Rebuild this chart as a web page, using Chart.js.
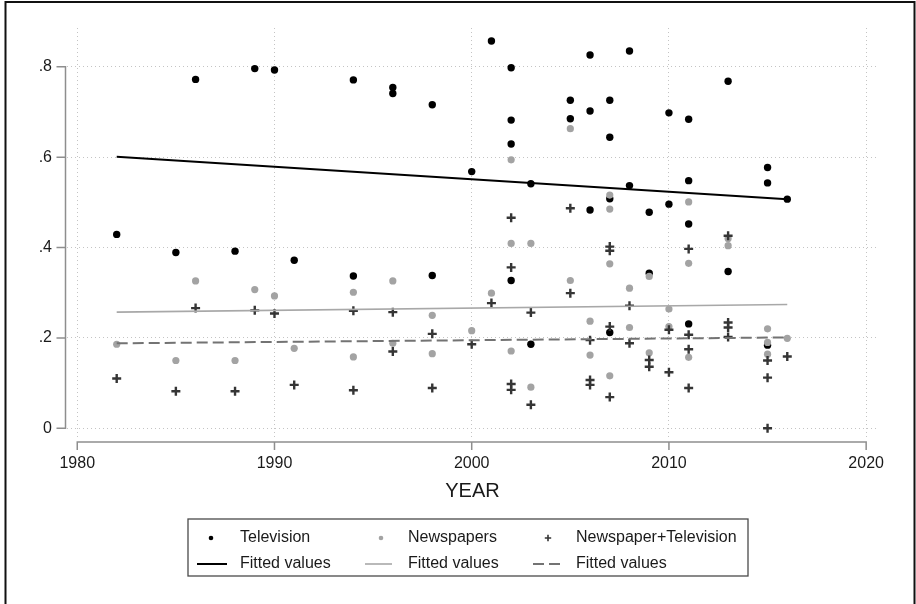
<!DOCTYPE html>
<html>
<head>
<meta charset="utf-8">
<script src="https://cdn.jsdelivr.net/npm/chart.js@4.4.1/dist/chart.umd.min.js"></script>
<style>
  html, body { margin: 0; padding: 0; background: #fff; }
  canvas { display: block; }
</style>
</head>
<body>
<canvas id="c" width="916" height="604" style="width:916px;height:604px"></canvas>
<script>
// ---------- data ----------
const tvYear = [1982,1985,1986,1988,1989,1990,1991,1994,1994,1996,1996,1998,1998,2000,2001,
  2002,2002,2002,2002,2003,2003,2005,2005,2006,2006,2006,2007,2007,2007,2007,2008,2008,
  2009,2009,2010,2010,2011,2011,2011,2011,2013,2013,2015,2015,2015,2016];
const tvValue = [0.429,0.389,0.772,0.392,0.796,0.793,0.372,0.771,0.337,0.754,0.741,0.716,0.338,0.568,0.857,
  0.798,0.682,0.629,0.327,0.541,0.186,0.726,0.685,0.826,0.702,0.483,0.726,0.644,0.508,0.212,0.835,0.537,
  0.478,0.343,0.698,0.496,0.684,0.548,0.452,0.231,0.768,0.347,0.577,0.543,0.184,0.507];

const newsYear = [1982,1985,1986,1988,1989,1990,1991,1994,1994,1996,1996,1998,1998,2000,2001,
  2002,2002,2002,2003,2003,2005,2005,2006,2006,2007,2007,2007,2007,2008,2008,2009,2009,
  2010,2010,2011,2011,2011,2013,2013,2015,2015,2015,2016];
const newsValue = [0.186,0.150,0.326,0.150,0.307,0.293,0.177,0.301,0.158,0.326,0.188,0.250,0.165,0.216,0.299,
  0.594,0.409,0.171,0.409,0.091,0.663,0.327,0.237,0.162,0.516,0.485,0.364,0.116,0.310,0.223,0.336,0.167,
  0.264,0.225,0.501,0.365,0.157,0.420,0.404,0.220,0.190,0.164,0.199];

const bothYear = [1982,1985,1986,1988,1989,1990,1991,1994,1994,1996,1996,1998,1998,2000,2001,
  2002,2002,2002,2002,2003,2003,2005,2005,2006,2006,2006,2007,2007,2007,2007,2008,2008,
  2009,2009,2010,2010,2011,2011,2011,2011,2013,2013,2013,2013,2015,2015,2015,2016];
const bothValue = [0.110,0.082,0.266,0.082,0.261,0.254,0.096,0.260,0.084,0.257,0.170,0.209,0.089,0.186,0.277,
  0.466,0.356,0.098,0.085,0.256,0.052,0.487,0.299,0.195,0.107,0.096,0.402,0.393,0.225,0.069,0.271,0.188,
  0.151,0.136,0.218,0.124,0.397,0.207,0.175,0.089,0.426,0.234,0.223,0.202,0.150,0.112,0.000,0.159];

const fitYear = [1982, 2016];
const fitTv = [0.601, 0.507];
const fitNews = [0.257, 0.274];
const fitBoth = [0.188, 0.201];

const xTicks = [1980, 1990, 2000, 2010, 2020];
const xTickLabels = ['1980', '1990', '2000', '2010', '2020'];
const yTicks = [0, 0.2, 0.4, 0.6, 0.8];
const yTickLabels = ['0', '.2', '.4', '.6', '.8'];
const xTitle = 'YEAR';
const legendLabels = ['Television', 'Newspapers', 'Newspaper+Television',
                      'Fitted values', 'Fitted values', 'Fitted values'];

// ---------- styling ----------
const FONT = "'Liberation Sans', Arial, Helvetica, sans-serif";
const C_TV = '#000000', C_NEWS = '#a3a3a3', C_BOTH = '#353535';
const C_FIT_NEWS = '#a8a8a8', C_FIT_BOTH = '#737373';
const DASH = [11, 5];

const pts = (xs, ys) => xs.map((x, i) => ({ x: x, y: ys[i] }));

const decor = {
  id: 'decor',
  beforeDraw(chart) {
    const ctx = chart.ctx;
    ctx.save();
    ctx.fillStyle = '#fff';
    ctx.fillRect(0, 0, chart.width, chart.height);
    ctx.restore();
  },
  afterDraw(chart) {
    const ctx = chart.ctx;
    const x = chart.scales.x, y = chart.scales.y;
    const area = chart.chartArea;
    ctx.save();
    // y axis line + ticks
    const ax = area.left - 1.5;
    ctx.strokeStyle = '#8e8e8e';
    ctx.lineWidth = 1.5;
    ctx.beginPath();
    ctx.moveTo(ax, y.getPixelForValue(yTicks[0]) + 0.75);
    ctx.lineTo(ax, y.getPixelForValue(yTicks[yTicks.length - 1]) - 0.75);
    yTicks.forEach(v => {
      const p = y.getPixelForValue(v);
      ctx.moveTo(ax - 9, p);
      ctx.lineTo(ax, p);
    });
    ctx.stroke();
    // x axis line + ticks
    const ay = area.bottom + 5;
    ctx.beginPath();
    ctx.moveTo(x.getPixelForValue(xTicks[0]) - 0.75, ay);
    ctx.lineTo(x.getPixelForValue(xTicks[xTicks.length - 1]) + 0.75, ay);
    xTicks.forEach(v => {
      const p = x.getPixelForValue(v);
      ctx.moveTo(p, ay);
      ctx.lineTo(p, ay + 8);
    });
    ctx.stroke();

    // legend
    const L = 188, T = 519, R = 748, B = 576;
    ctx.strokeStyle = '#4a4a4a';
    ctx.lineWidth = 1.3;
    ctx.strokeRect(L, T, R - L, B - T);
    const rows = [538, 564];
    const textX = [240, 408, 576];
    const markX = [211, 381, 548];
    const lineX = [[197, 227], [365, 392], [533, 560]];
    ctx.font = '16px ' + FONT;
    ctx.fillStyle = '#1a1a1a';
    ctx.textBaseline = 'middle';
    ctx.textAlign = 'left';
    for (let i = 0; i < 3; i++) {
      ctx.fillText(legendLabels[i], textX[i], rows[0]);
      ctx.fillText(legendLabels[i + 3], textX[i], rows[1]);
    }
    // markers
    ctx.fillStyle = C_TV;
    ctx.beginPath(); ctx.arc(markX[0], rows[0], 2.3, 0, Math.PI * 2); ctx.fill();
    ctx.fillStyle = C_NEWS;
    ctx.beginPath(); ctx.arc(markX[1], rows[0], 2.3, 0, Math.PI * 2); ctx.fill();
    ctx.strokeStyle = C_BOTH; ctx.lineWidth = 1.6;
    ctx.beginPath();
    ctx.moveTo(markX[2] - 3.2, rows[0]); ctx.lineTo(markX[2] + 3.2, rows[0]);
    ctx.moveTo(markX[2], rows[0] - 3.2); ctx.lineTo(markX[2], rows[0] + 3.2);
    ctx.stroke();
    // line samples
    ctx.strokeStyle = C_TV; ctx.lineWidth = 2;
    ctx.beginPath(); ctx.moveTo(lineX[0][0], rows[1]); ctx.lineTo(lineX[0][1], rows[1]); ctx.stroke();
    ctx.strokeStyle = C_FIT_NEWS; ctx.lineWidth = 1.6;
    ctx.beginPath(); ctx.moveTo(lineX[1][0], rows[1]); ctx.lineTo(lineX[1][1], rows[1]); ctx.stroke();
    ctx.strokeStyle = C_FIT_BOTH; ctx.lineWidth = 2;
    ctx.setLineDash(DASH);
    ctx.beginPath(); ctx.moveTo(lineX[2][0], rows[1]); ctx.lineTo(lineX[2][1], rows[1]); ctx.stroke();
    ctx.setLineDash([]);

    // outer frame
    ctx.strokeStyle = '#111';
    ctx.lineWidth = 2;
    ctx.strokeRect(5.5, 2, 909, 620);
    ctx.restore();
  }
};

const tickFont = { family: FONT, size: 16 };

new Chart(document.getElementById('c'), {
  type: 'scatter',
  data: {
    datasets: [
      { label: legendLabels[0], data: pts(tvYear, tvValue), order: 6,
        pointStyle: 'circle', pointRadius: 3.7, backgroundColor: C_TV, borderColor: C_TV, borderWidth: 0 },
      { label: legendLabels[1], data: pts(newsYear, newsValue), order: 5,
        pointStyle: 'circle', pointRadius: 3.6, backgroundColor: C_NEWS, borderColor: C_NEWS, borderWidth: 0 },
      { label: legendLabels[2], data: pts(bothYear, bothValue), order: 4,
        pointStyle: 'cross', pointRadius: 4.5, backgroundColor: C_BOTH, borderColor: C_BOTH, borderWidth: 2.4 },
      { label: legendLabels[3], data: pts(fitYear, fitTv), order: 3, showLine: true,
        pointRadius: 0, borderColor: C_TV, borderWidth: 2, fill: false },
      { label: legendLabels[4], data: pts(fitYear, fitNews), order: 2, showLine: true,
        pointRadius: 0, borderColor: C_FIT_NEWS, borderWidth: 1.6, fill: false },
      { label: legendLabels[5], data: pts(fitYear, fitBoth), order: 1, showLine: true,
        pointRadius: 0, borderColor: C_FIT_BOTH, borderWidth: 2, borderDash: DASH, fill: false }
    ]
  },
  options: {
    responsive: false,
    animation: false,
    devicePixelRatio: 1,
    layout: { padding: { left: 5, top: 28, right: 38, bottom: 100 } },
    plugins: { legend: { display: false }, tooltip: { enabled: false } },
    scales: {
      x: {
        type: 'linear', min: 1979.48, max: 2020.6,
        afterBuildTicks: s => { s.ticks = xTicks.map(v => ({ value: v })); },
        afterFit: s => { s.height = 67; },
        ticks: { padding: 17, font: tickFont, color: '#1a1a1a',
                 callback: (v, i) => xTickLabels[i] },
        grid: { color: '#c4c4c4', lineWidth: 1, drawTicks: false },
        border: { display: false, dash: [1, 3] },
        title: { display: true, text: xTitle, color: '#1a1a1a',
                 font: { family: FONT, size: 20 }, padding: { top: 0, bottom: 1 } }
      },
      y: {
        type: 'linear', min: -0.0193, max: 0.8858,
        afterBuildTicks: s => { s.ticks = yTicks.map(v => ({ value: v })); },
        afterFit: s => { s.width = 62; },
        ticks: { padding: 15, font: tickFont, color: '#1a1a1a',
                 callback: (v, i) => yTickLabels[i] },
        grid: { color: '#c4c4c4', lineWidth: 1, drawTicks: false },
        border: { display: false, dash: [1, 3] }
      }
    }
  },
  plugins: [decor]
});
</script>
</body>
</html>
